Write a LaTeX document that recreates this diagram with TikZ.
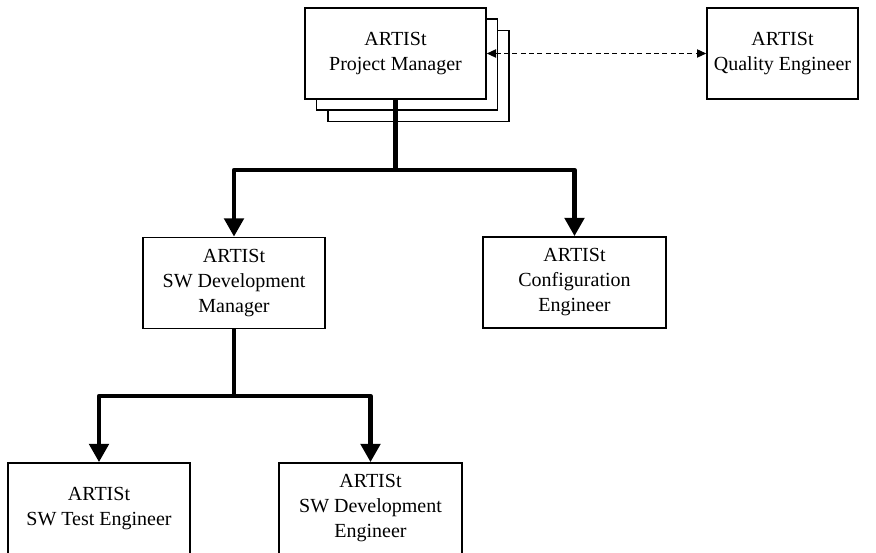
\documentclass[tikz,border=0pt]{standalone}
\usepackage{fontspec}
\setmainfont{Liberation Serif}
\usetikzlibrary{arrows.meta}

\begin{document}
\begin{tikzpicture}
  [x=0.6pt,y=-0.6pt,
   every node/.style={draw,fill=white,line width=1pt,align=center,
     minimum height=54.6pt,inner sep=0pt,
     font=\fontsize{12}{15}\selectfont},
   tree/.style={line width=2.8pt,line join=round,-{Triangle[length=11pt,width=11.5pt]}},
   link/.style={line width=0.6pt,densely dashed,{Triangle[length=5.5pt,width=5pt]}-{Triangle[length=5.5pt,width=5pt]}}]
  \useasboundingbox (0,0) rectangle (876,553);

  \node[minimum width=108.6pt] (npc) at (418.5,76) {};
  \node[minimum width=108.6pt] (npb) at (407,64.5) {};
  \node[minimum width=108.6pt] (npm) at (395.5,53.5) {ARTISt\\Project Manager};
  \node[minimum width=90.6pt] (nqe) at (782.5,53.5) {ARTISt\\Quality Engineer};
  \node[minimum width=109.2pt] (nsm) at (234,283) {ARTISt\\SW Development\\Manager};
  \node[minimum width=109.8pt] (nce) at (574.5,282.5) {ARTISt\\Configuration\\Engineer};
  \node[minimum width=109.2pt] (nte) at (99,508.5) {ARTISt\\SW Test Engineer};
  \node[minimum width=109.8pt] (nde) at (370.5,508.5) {ARTISt\\SW Development\\Engineer};

  \coordinate (jpm) at (395.5,170);
  \coordinate (jsm) at (234,396);

  \draw[link] (npm.east) -- (nqe.west);
  \foreach \from/\via/\to in {npm/jpm/nsm,npm/jpm/nce,nsm/jsm/nte,nsm/jsm/nde}
    \draw[tree] (\from.south) -- (\via) -| (\to.north);
\end{tikzpicture}
\end{document}
